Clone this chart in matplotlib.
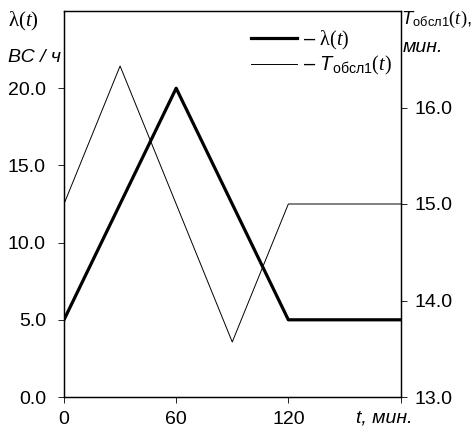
import matplotlib
matplotlib.use("Agg")
import matplotlib.pyplot as plt

plt.rcParams['font.family'] = ['Liberation Sans', 'DejaVu Sans']
plt.rcParams['mathtext.fontset'] = 'custom'
plt.rcParams['mathtext.rm'] = 'Liberation Serif'
plt.rcParams['mathtext.it'] = 'Liberation Serif:italic'
plt.rcParams['mathtext.sf'] = 'Liberation Sans'
plt.rcParams['mathtext.bf'] = 'Liberation Sans:italic'

# time, minutes
t = [0, 60, 120, 180]
lam = [5.0, 20.0, 5.0, 5.0]          # lambda(t), ВС/ч
t_obs = [0, 30, 90, 120, 180]
T_obs = [15.0, 16.43, 13.57, 15.0, 15.0]   # T_обсл1(t), мин.

x_ticks = [0, 60, 120]
left_ticks = [0, 5, 10, 15, 20]
right_ticks = [13, 14, 15, 16]

fig = plt.figure(figsize=(4.72, 4.33), dpi=100)
ax = fig.add_axes([64 / 472, 1 - 397 / 433, 336.5 / 472, 386 / 433])
ax2 = ax.twinx()

l1, = ax.plot(t, lam, color='black', lw=2.3, label=r'– $\mathrm{\lambda}(t)$')
l2, = ax2.plot(t_obs, T_obs, color='black', lw=0.7, label=r'– $\mathbf{T}_{\mathsf{обсл1}}(t)$')

ax.set_xlim(0, 180)
ax.set_ylim(0, 25)
ax2.set_ylim(13, 17)

ax.set_xticks(x_ticks + [180])
ax.set_xticklabels([str(v) for v in x_ticks] + [''])
ax.set_yticks(left_ticks)
ax.set_yticklabels([f'{v:.1f}' for v in left_ticks])
ax2.set_yticks(right_ticks)
ax2.set_yticklabels([f'{v:.1f}' for v in right_ticks])

ax.tick_params(axis='both', labelsize=14, length=4, width=0.6, direction='out')
ax.tick_params(axis='y', pad=9)
ax.tick_params(axis='x', pad=6)
ax2.tick_params(axis='y', labelsize=14, length=4, width=0.6, direction='out', pad=6)

for a in (ax, ax2):
    for s in a.spines.values():
        s.set_linewidth(0.9)

ax.annotate('t, мин.', xy=(1, 0), xycoords='axes fraction', xytext=(9, -9),
            textcoords='offset points', ha='right', va='top', fontsize=14,
            style='italic')

fig.text(8 / 472, 1 - 33 / 433, r'$\mathrm{\lambda}(t)$', fontsize=15, ha='left', va='bottom')
fig.text(8 / 472, 1 - 66 / 433, 'ВС / ч', fontsize=14, style='italic', ha='left', va='bottom')
fig.text(401 / 472, 1 - 30 / 433, r'$\mathbf{T}_{\mathsf{обсл1}}(t)$,', fontsize=13.3, ha='left', va='bottom')
fig.text(403 / 472, 1 - 56 / 433, 'мин.', fontsize=14, style='italic', ha='left', va='bottom')

ax.legend(handles=[l1, l2], loc='upper right', bbox_to_anchor=(1.01, 0.985),
          frameon=False, fontsize=14.5, handlelength=2.3, handletextpad=0.3,
          labelspacing=0.12, borderaxespad=0.2)

fig.savefig('out.png', dpi=100)
